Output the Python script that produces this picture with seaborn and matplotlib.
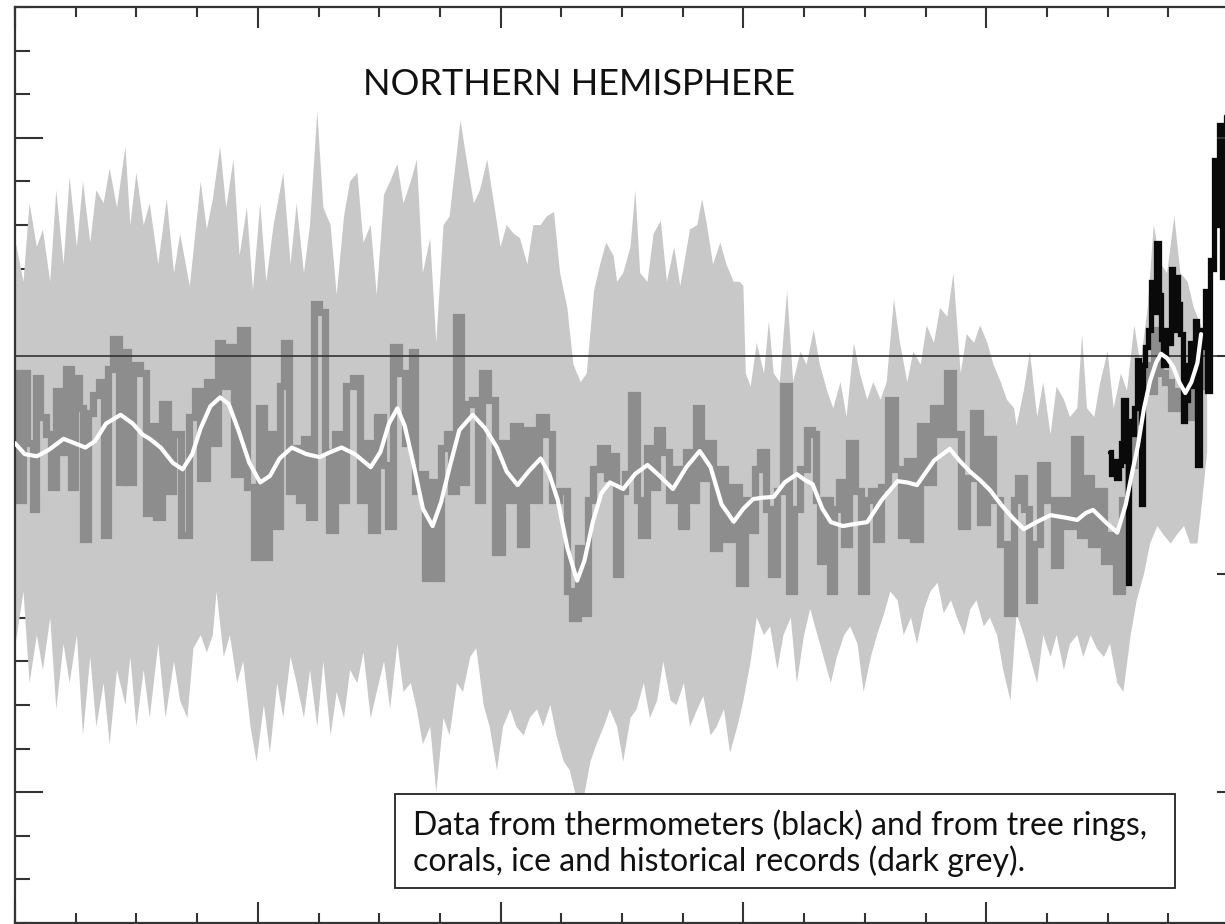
import numpy as np
import matplotlib
matplotlib.use("Agg")
import matplotlib.pyplot as plt
import seaborn as sns
from matplotlib.patches import Rectangle
from matplotlib.ticker import MultipleLocator, NullLocator

sns.set_theme(style="white")
plt.rcParams['font.family'] = ['Lato', 'DejaVu Sans']

# ---------------- data ----------------
# proxy reconstruction (dark grey), anomaly in deg C
recon_years = [1000, 1006, 1008, 1012, 1017, 1018, 1023, 1028, 1032, 1036, 1040, 1044, 1048, 1051, 1054,
               1058, 1062, 1067, 1071, 1076, 1078, 1084, 1088, 1091, 1095, 1100, 1106, 1109, 1114, 1118,
               1124, 1128, 1133, 1140, 1146, 1150, 1155, 1161, 1165, 1169, 1172, 1177, 1183, 1188, 1194,
               1199, 1203, 1207, 1212, 1217, 1220, 1223, 1228, 1232, 1236, 1240, 1245, 1247, 1253, 1257,
               1261, 1266, 1271, 1275, 1282, 1286, 1291, 1295, 1301, 1305, 1309, 1313, 1319, 1323, 1326,
               1328, 1331, 1336, 1339, 1345, 1349, 1353, 1358, 1361, 1365, 1369, 1374, 1379, 1383, 1387,
               1393, 1398, 1404, 1408, 1413, 1419, 1423, 1429, 1434, 1440, 1445, 1452, 1457, 1461, 1466,
               1470, 1474, 1479, 1485, 1490, 1493, 1497, 1500, 1505, 1510, 1514, 1518, 1523, 1527, 1530,
               1536, 1541, 1547, 1550, 1555, 1559, 1563, 1567, 1573, 1577, 1582, 1588, 1593, 1599, 1604,
               1608, 1611, 1617, 1621, 1625, 1630, 1635, 1640, 1644, 1650, 1655, 1658, 1661, 1666, 1670,
               1673, 1677, 1681, 1685, 1689, 1695, 1699, 1703, 1707, 1711, 1716, 1722, 1727, 1732, 1737,
               1743, 1748, 1754, 1759, 1765, 1770, 1776, 1782, 1787, 1792, 1798, 1803, 1809, 1814, 1820,
               1825, 1828, 1834, 1836, 1842, 1847, 1853, 1858, 1864, 1869, 1875, 1879, 1883, 1889, 1894,
               1900, 1905, 1909, 1915, 1919, 1924, 1930, 1935, 1941, 1945, 1949, 1955, 1960, 1966, 1971,
               1977, 1980]
recon_vals = [-0.04, -0.33, -0.04, -0.20, -0.35, -0.05, -0.14, -0.18, -0.30, -0.08, -0.22, -0.03, -0.30, -0.05, -0.12,
              -0.42, -0.13, -0.09, -0.06, -0.41, -0.03, 0.04, -0.29, 0.01, -0.29, -0.02, -0.04, -0.36, -0.16, -0.37,
              -0.11, -0.31, -0.18, -0.41, -0.14, -0.08, -0.28, -0.06, -0.20, 0.03, -0.07, 0.02, -0.27, 0.06, -0.30,
              -0.46, -0.12, -0.46, -0.18, -0.39, -0.07, 0.03, -0.31, -0.21, -0.33, -0.19, -0.37, 0.12, 0.10, -0.22,
              -0.40, -0.18, -0.33, -0.07, -0.05, -0.33, -0.20, -0.40, -0.14, -0.25, -0.39, 0.02, -0.04, -0.20, -0.10,
              0.01, -0.31, -0.27, -0.51, -0.29, -0.51, -0.21, -0.18, -0.31, 0.09, -0.29, -0.11, -0.10, -0.33, -0.04,
              -0.10, -0.45, -0.20, -0.33, -0.16, -0.43, -0.17, -0.33, -0.14, -0.18, -0.33, -0.31, -0.54, -0.60, -0.44,
              -0.59, -0.33, -0.26, -0.21, -0.28, -0.23, -0.50, -0.31, -0.27, -0.09, -0.33, -0.41, -0.21, -0.30, -0.17,
              -0.22, -0.33, -0.26, -0.39, -0.22, -0.33, -0.12, -0.28, -0.20, -0.44, -0.26, -0.42, -0.30, -0.52, -0.33,
              -0.40, -0.26, -0.22, -0.35, -0.50, -0.31, -0.07, -0.54, -0.35, -0.26, -0.17, -0.18, -0.33, -0.47, -0.33,
              -0.54, -0.35, -0.29, -0.43, -0.20, -0.31, -0.54, -0.33, -0.31, -0.42, -0.30, -0.10, -0.26, -0.41, -0.24,
              -0.42, -0.16, -0.29, -0.12, -0.18, -0.04, -0.18, -0.39, -0.28, -0.13, -0.38, -0.19, -0.33, -0.43, -0.59,
              -0.33, -0.28, -0.35, -0.56, -0.43, -0.25, -0.33, -0.48, -0.33, -0.39, -0.19, -0.41, -0.28, -0.43, -0.31,
              -0.47, -0.41, -0.54, -0.33, -0.25, -0.15, -0.02, -0.08, 0.06, -0.04, -0.06, -0.12, -0.08, -0.14, -0.06,
              0.03, -0.07]

# uncertainty range (light grey): upper edge
band_up_years = [1000, 1007, 1012, 1018, 1023, 1029, 1034, 1040, 1045, 1051, 1056, 1062, 1067, 1073, 1078,
                 1084, 1091, 1095, 1100, 1106, 1111, 1118, 1125, 1131, 1136, 1144, 1153, 1158, 1163, 1169,
                 1174, 1180, 1185, 1191, 1196, 1202, 1207, 1213, 1221, 1227, 1232, 1238, 1243, 1249, 1254,
                 1260, 1265, 1271, 1276, 1282, 1287, 1293, 1298, 1304, 1309, 1315, 1320, 1326, 1331, 1336,
                 1342, 1347, 1353, 1358, 1367, 1372, 1378, 1383, 1389, 1394, 1400, 1405, 1411, 1416, 1422,
                 1427, 1433, 1438, 1444, 1449, 1455, 1460, 1466, 1471, 1477, 1482, 1487, 1493, 1496, 1501,
                 1507, 1511, 1515, 1521, 1526, 1532, 1537, 1543, 1548, 1556, 1562, 1566, 1570, 1575, 1581,
                 1586, 1592, 1597, 1600, 1602, 1606, 1611, 1617, 1621, 1625, 1630, 1636, 1641, 1647, 1652,
                 1658, 1663, 1669, 1674, 1680, 1685, 1691, 1696, 1702, 1707, 1713, 1718, 1724, 1729, 1735,
                 1740, 1746, 1751, 1757, 1762, 1768, 1773, 1779, 1784, 1790, 1795, 1801, 1806, 1812, 1817,
                 1823, 1825, 1831, 1836, 1842, 1847, 1853, 1858, 1864, 1869, 1875, 1879, 1883, 1889, 1894,
                 1900, 1905, 1911, 1916, 1922, 1927, 1933, 1938, 1944, 1949, 1955, 1960, 1966, 1971, 1977,
                 1982]
band_up_vals = [0.27, 0.17, 0.35, 0.25, 0.29, 0.17, 0.38, 0.21, 0.41, 0.25, 0.40, 0.26, 0.38, 0.35, 0.43,
                0.34, 0.48, 0.30, 0.42, 0.30, 0.35, 0.21, 0.36, 0.19, 0.28, 0.16, 0.40, 0.29, 0.36, 0.48,
                0.34, 0.45, 0.23, 0.34, 0.15, 0.35, 0.17, 0.30, 0.42, 0.21, 0.35, 0.19, 0.30, 0.56, 0.34,
                0.30, 0.14, 0.32, 0.40, 0.42, 0.26, 0.30, 0.14, 0.37, 0.40, 0.44, 0.35, 0.40, 0.45, 0.19,
                0.27, 0.03, 0.30, 0.32, 0.54, 0.45, 0.35, 0.38, 0.45, 0.36, 0.25, 0.30, 0.28, 0.27, 0.21,
                0.30, 0.30, 0.32, 0.33, 0.19, 0.11, -0.02, -0.06, -0.04, 0.15, 0.21, 0.26, 0.23, 0.17, 0.19,
                0.25, 0.38, 0.19, 0.17, 0.28, 0.31, 0.17, 0.25, 0.16, 0.29, 0.30, 0.36, 0.30, 0.21, 0.26,
                0.21, 0.17, 0.17, 0.16, -0.04, -0.07, 0.03, -0.04, 0.08, -0.04, -0.06, 0.15, -0.06, 0.01, -0.02,
                0.06, -0.02, -0.08, -0.12, -0.06, -0.14, 0.03, -0.04, -0.10, -0.06, -0.10, -0.06, 0.13, 0.03, -0.06,
                0.01, -0.02, 0.07, 0.03, 0.11, 0.09, 0.19, -0.04, 0.05, 0.03, 0.07, 0.03, -0.02, -0.06, -0.10,
                -0.12, -0.16, -0.08, 0.01, -0.14, -0.06, -0.18, -0.07, -0.10, -0.14, -0.12, 0.05, -0.12, -0.14, -0.06,
                0.01, -0.12, -0.04, -0.08, 0.07, -0.02, 0.11, 0.30, 0.21, 0.19, 0.32, 0.19, 0.17, 0.11, 0.07,
                -0.02]

# uncertainty range (light grey): lower edge
band_low_years = [1000, 1007, 1012, 1018, 1023, 1029, 1034, 1040, 1045, 1051, 1056, 1062, 1067, 1073, 1078,
                  1084, 1091, 1095, 1100, 1106, 1111, 1118, 1124, 1131, 1136, 1142, 1147, 1153, 1158, 1163,
                  1166, 1172, 1177, 1183, 1188, 1194, 1199, 1205, 1210, 1216, 1221, 1227, 1232, 1238, 1243,
                  1249, 1254, 1260, 1265, 1271, 1276, 1282, 1287, 1293, 1298, 1304, 1309, 1315, 1320, 1326,
                  1331, 1336, 1342, 1347, 1353, 1358, 1364, 1369, 1375, 1380, 1386, 1391, 1397, 1402, 1408,
                  1413, 1419, 1424, 1430, 1435, 1441, 1446, 1452, 1457, 1463, 1468, 1474, 1479, 1485, 1490,
                  1496, 1501, 1507, 1512, 1518, 1523, 1529, 1534, 1540, 1545, 1551, 1556, 1562, 1567, 1573,
                  1578, 1584, 1589, 1595, 1600, 1606, 1611, 1617, 1622, 1628, 1633, 1639, 1644, 1650, 1655,
                  1661, 1666, 1672, 1677, 1683, 1688, 1694, 1699, 1705, 1710, 1716, 1721, 1727, 1732, 1738,
                  1743, 1749, 1754, 1760, 1765, 1771, 1776, 1782, 1787, 1792, 1798, 1803, 1809, 1814, 1820,
                  1825, 1831, 1836, 1842, 1847, 1853, 1858, 1864, 1869, 1875, 1880, 1886, 1891, 1897, 1902,
                  1908, 1913, 1919, 1924, 1930, 1935, 1941, 1946, 1952, 1957, 1963, 1968, 1974, 1978, 1982]
band_low_vals = [-0.67, -0.54, -0.75, -0.64, -0.72, -0.60, -0.81, -0.66, -0.75, -0.64, -0.87, -0.69, -0.85, -0.75, -0.89,
                 -0.72, -0.80, -0.69, -0.85, -0.72, -0.83, -0.66, -0.83, -0.70, -0.79, -0.83, -0.67, -0.64, -0.68, -0.64,
                 -0.54, -0.69, -0.64, -0.75, -0.70, -0.85, -0.93, -0.80, -0.91, -0.75, -0.83, -0.69, -0.75, -0.83, -0.72,
                 -0.85, -0.70, -0.87, -0.77, -0.83, -0.72, -0.75, -0.68, -0.83, -0.77, -0.70, -0.81, -0.66, -0.77, -0.75,
                 -0.81, -0.89, -0.85, -1.00, -0.83, -0.87, -0.75, -0.77, -0.69, -0.67, -0.80, -0.85, -0.95, -0.85, -0.81,
                 -0.85, -0.87, -0.83, -0.81, -0.85, -0.80, -0.87, -0.93, -0.95, -1.02, -1.02, -0.93, -0.89, -0.85, -0.81,
                 -0.85, -0.93, -0.83, -0.81, -0.75, -0.83, -0.79, -0.70, -0.79, -0.80, -0.75, -0.85, -0.81, -0.78, -0.87,
                 -0.85, -0.81, -0.91, -0.85, -0.79, -0.70, -0.60, -0.64, -0.62, -0.72, -0.64, -0.60, -0.75, -0.64, -0.58,
                 -0.64, -0.69, -0.75, -0.69, -0.64, -0.62, -0.66, -0.77, -0.69, -0.64, -0.59, -0.54, -0.56, -0.64, -0.60,
                 -0.66, -0.58, -0.54, -0.52, -0.59, -0.56, -0.60, -0.64, -0.58, -0.56, -0.62, -0.60, -0.64, -0.72, -0.79,
                 -0.59, -0.64, -0.69, -0.75, -0.64, -0.69, -0.64, -0.72, -0.66, -0.64, -0.69, -0.64, -0.67, -0.69, -0.66,
                 -0.75, -0.77, -0.64, -0.56, -0.50, -0.43, -0.39, -0.41, -0.43, -0.41, -0.39, -0.43, -0.43, -0.33, -0.22]

# thermometer record (black)
thermo_years = [1902, 1904, 1906, 1908, 1910, 1912, 1914, 1916, 1917, 1919, 1921, 1923, 1925, 1927, 1928,
                1930, 1932, 1934, 1937, 1939, 1941, 1943, 1945, 1947, 1949, 1951, 1953, 1955, 1957, 1959,
                1961, 1963, 1965, 1967, 1969, 1971, 1973, 1975, 1977, 1979, 1981, 1983, 1985, 1987, 1989,
                1991, 1993, 1995, 1997, 1998]
thermo_vals = [-0.22, -0.27, -0.24, -0.28, -0.25, -0.20, -0.10, -0.24, -0.52, -0.15, -0.18, -0.12, -0.01, -0.03, -0.34,
               -0.02, 0.02, 0.06, 0.17, 0.10, 0.26, 0.14, 0.04, -0.02, 0.06, 0.03, 0.20, 0.06, 0.18, 0.12,
               0.05, -0.15, -0.10, -0.02, 0.03, -0.07, 0.08, -0.25, 0.06, 0.02, 0.15, -0.08, 0.22, 0.20, 0.45,
               0.30, 0.53, 0.18, 0.50, 0.55]

# 40-year smoothed reconstruction (white)
smooth_years = [1000, 1008, 1018, 1028, 1040, 1049, 1058, 1066, 1075, 1087, 1097, 1105, 1111, 1120, 1130,
                1138, 1146, 1153, 1161, 1169, 1176, 1184, 1193, 1202, 1210, 1218, 1228, 1240, 1251, 1260,
                1269, 1280, 1293, 1301, 1308, 1315, 1321, 1328, 1336, 1344, 1351, 1358, 1366, 1377, 1387,
                1397, 1405, 1414, 1423, 1433, 1440, 1447, 1455, 1463, 1469, 1476, 1483, 1490, 1501, 1511,
                1521, 1531, 1542, 1553, 1564, 1573, 1582, 1592, 1600, 1608, 1616, 1625, 1634, 1644, 1651,
                1657, 1665, 1672, 1682, 1692, 1702, 1714, 1727, 1735, 1743, 1757, 1770, 1778, 1787, 1795,
                1803, 1812, 1822, 1831, 1842, 1853, 1864, 1875, 1882, 1888, 1898, 1908, 1915, 1920, 1925,
                1930, 1935, 1940, 1944, 1949, 1954, 1959, 1964, 1969, 1974, 1977]
smooth_vals = [-0.20, -0.225, -0.23, -0.215, -0.19, -0.20, -0.21, -0.195, -0.155, -0.135, -0.155, -0.18, -0.19, -0.21, -0.245,
               -0.26, -0.225, -0.165, -0.115, -0.095, -0.11, -0.17, -0.245, -0.29, -0.275, -0.235, -0.21, -0.225, -0.232, -0.22,
               -0.21, -0.225, -0.255, -0.22, -0.155, -0.12, -0.16, -0.245, -0.35, -0.39, -0.335, -0.255, -0.17, -0.135, -0.165,
               -0.21, -0.265, -0.296, -0.265, -0.235, -0.27, -0.33, -0.44, -0.515, -0.47, -0.38, -0.315, -0.29, -0.305, -0.27,
               -0.25, -0.275, -0.305, -0.255, -0.218, -0.255, -0.34, -0.38, -0.35, -0.328, -0.325, -0.323, -0.29, -0.271, -0.285,
               -0.294, -0.35, -0.381, -0.39, -0.385, -0.381, -0.33, -0.287, -0.29, -0.296, -0.24, -0.213, -0.24, -0.266, -0.285,
               -0.307, -0.34, -0.372, -0.397, -0.38, -0.365, -0.37, -0.376, -0.36, -0.353, -0.38, -0.405, -0.34, -0.27, -0.205,
               -0.12, -0.057, -0.015, 0.005, -0.005, -0.025, -0.06, -0.085, -0.06, -0.016, 0.05]

title_text = "NORTHERN HEMISPHERE"
note_lines = ["Data from thermometers (black) and from tree rings,",
              "corals, ice and historical records (dark grey)."]

# ---------------- figure ----------------
W, H = 1225, 924
fig = plt.figure(figsize=(W / 100, H / 100), dpi=100)
fig.patch.set_facecolor("white")
ax = fig.add_axes([15 / W, 1 / H, 1214 / W, 916 / H])
ax.set_facecolor("white")

band_x = np.concatenate([np.array(band_up_years), np.array(band_low_years)[::-1]])
band_y = np.concatenate([np.array(band_up_vals), np.array(band_low_vals)[::-1]])
ax.fill(band_x, band_y, color="#c8c8c8", lw=0, zorder=1)

sns.lineplot(x=recon_years, y=recon_vals, ax=ax, color="#8d8d8d", lw=5.2,
             drawstyle="steps-mid", estimator=None, sort=False, zorder=2,
             solid_joinstyle="miter")
ax.axhline(0, color="#333333", lw=1.2, zorder=2.5)
sns.lineplot(x=thermo_years, y=thermo_vals, ax=ax, color="#0a0a0a", lw=3.8,
             drawstyle="steps-mid", estimator=None, sort=False, zorder=3,
             solid_joinstyle="miter")
sns.lineplot(x=smooth_years, y=smooth_vals, ax=ax, color="white", lw=3.0,
             estimator=None, sort=False, zorder=4, solid_joinstyle="round")

ax.set_xlim(1000, 2000)
ax.set_ylim(-1.3, 0.8)
ax.set_xlabel("")
ax.set_ylabel("")

ax.xaxis.set_major_locator(MultipleLocator(200))
ax.xaxis.set_minor_locator(MultipleLocator(50))
ax.yaxis.set_major_locator(MultipleLocator(0.5))
ax.yaxis.set_minor_locator(MultipleLocator(0.1))

tick_c = "#333333"
ax2 = ax.twinx()
ax2.set_ylim(-1.3, 0.8)
ax2.yaxis.set_major_locator(MultipleLocator(0.5))
ax2.yaxis.set_minor_locator(NullLocator())
ax2.tick_params(axis="y", which="major", direction="in", length=9, width=1.5,
                color=tick_c, right=True, left=False, labelright=False, labelleft=False)
for s in ax2.spines.values():
    s.set_visible(False)

ax.tick_params(axis="x", which="major", direction="in", length=15, width=1.5, color=tick_c,
               top=True, bottom=True, labelbottom=False, labeltop=False)
ax.tick_params(axis="x", which="minor", direction="in", length=7.5, width=1.5, color=tick_c,
               top=True, bottom=True)
ax.tick_params(axis="y", which="major", direction="in", length=20, width=1.5, color=tick_c,
               left=True, right=False, labelleft=False, labelright=False)
ax.tick_params(axis="y", which="minor", direction="in", length=11, width=1.5, color=tick_c,
               left=True, right=False)
for name, s in ax.spines.items():
    s.set_color(tick_c)
    s.set_linewidth(1.6)
ax.spines["right"].set_visible(False)
ax.grid(False)

fig.text(363 / W, (H - 95) / H, title_text, fontsize=26, color="#111111",
         ha="left", va="baseline")

box = Rectangle((395 / W, (H - 888) / H), 780 / W, 94 / H, transform=fig.transFigure,
                facecolor="white", edgecolor="#222222", lw=1.3, zorder=5)
fig.add_artist(box)
fig.text(413 / W, (H - 835) / H, note_lines[0], fontsize=23, color="#111111",
         ha="left", va="baseline", zorder=6)
fig.text(413 / W, (H - 871) / H, note_lines[1], fontsize=23, color="#111111",
         ha="left", va="baseline", zorder=6)

fig.savefig("out.png", dpi=100)
